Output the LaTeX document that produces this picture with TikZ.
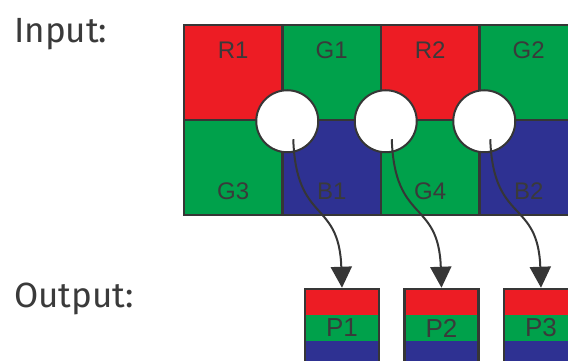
\documentclass[tikz,border=0pt]{standalone}
\usepackage{fontspec}
\setmainfont{Fira Sans}
\setsansfont{Liberation Sans}
\usetikzlibrary{positioning,calc,arrows.meta}
\definecolor{bred}{HTML}{ED1C24}
\definecolor{bgreen}{HTML}{00A14B}
\definecolor{bblue}{HTML}{2E3192}
\definecolor{edge}{HTML}{363636}
\definecolor{ink}{HTML}{3A3A3A}
\tikzset{%
  cell/.style={
    draw=edge,
    line width=2.5pt,
    minimum width=98.5pt,
    minimum height=95pt,
    inner sep=0pt
  },
  lbl/.style={text=ink, font=\sffamily\fontsize{24}{24}\selectfont},
  lbltop/.style={lbl, anchor=center, yshift=-26pt},
  lblbot/.style={lbl, anchor=center, yshift=25pt},
  sample/.style={
    circle,
    draw=edge,
    fill=white,
    line width=2pt,
    minimum size=62pt,
    inner sep=0pt
  },
  pixel/.style={
    draw=edge,
    fill=bgreen,
    line width=2.5pt,
    minimum width=74pt,
    minimum height=78pt,
    inner sep=0pt,
    text=ink,
    font=\sffamily\fontsize{26}{26}\selectfont,
    path picture={
      \fill[bred] (path picture bounding box.north west) rectangle ++(74,-26);
      \fill[bblue] (path picture bounding box.south west) rectangle ++(74,26);
    }
  },
  caption/.style={text=ink, font=\fontsize{35}{40}\selectfont, inner sep=0pt, anchor=base west},
  link/.style={draw=edge, line width=2pt, -{Triangle[width=21pt,length=21pt]}},
}
\begin{document}
\begin{tikzpicture}[x=1pt,y=1pt,node distance=95pt and 98.5pt,on grid]
  \clip (0,0) rectangle (568,361);
  \fill[white] (0,0) rectangle (568,361);

  \node[caption] (input) at (14,318) {Input:};
  \node[caption] (output) at (14,53) {Output:};

  \node[cell, fill=bred, label={[lbltop]north:R1}] (r1) at (233.25,288.5) {};
  \node[cell, fill=bgreen, label={[lbltop]north:G1}] (g1) [right=of r1] {};
  \node[cell, fill=bred, label={[lbltop]north:R2}] (r2) [right=of g1] {};
  \node[cell, fill=bgreen, label={[lbltop]north:G2}] (g2) [right=of r2] {};
  \node[cell, fill=bgreen, label={[lblbot]south:G3}] (g3) [below=of r1] {};
  \node[cell, fill=bblue, label={[lblbot]south:B1}] (b1) [right=of g3] {};
  \node[cell, fill=bgreen, label={[lblbot]south:G4}] (g4) [right=of b1] {};
  \node[cell, fill=bblue, label={[lblbot]south:B2}] (b2) [right=of g4] {};

  \node[sample] (c1) at ($(r1.south east)+(3.5,0)$) {};
  \node[sample] (c2) at ($(g1.south east)+(3.5,0)$) {};
  \node[sample] (c3) at ($(r2.south east)+(3.5,0)$) {};

  \node[pixel] (p1) at (342,33) {P1};
  \node[pixel] (p2) at (441.5,33) {P2};
  \node[pixel] (p3) at (541,33) {P3};

  \coordinate (s1) at ([shift={(6,-18)}]c1.center);
  \coordinate (s2) at ([shift={(6,-18)}]c2.center);
  \coordinate (s3) at ([shift={(6,-18)}]c3.center);
  \draw[link] (s1) .. controls +(3,-85) and +(-3,89) .. (p1.north);
  \draw[link] (s2) .. controls +(3,-85) and +(-3,89) .. (p2.north);
  \draw[link] (s3) .. controls +(3,-85) and +(-3,89) .. (p3.north);
\end{tikzpicture}
\end{document}
